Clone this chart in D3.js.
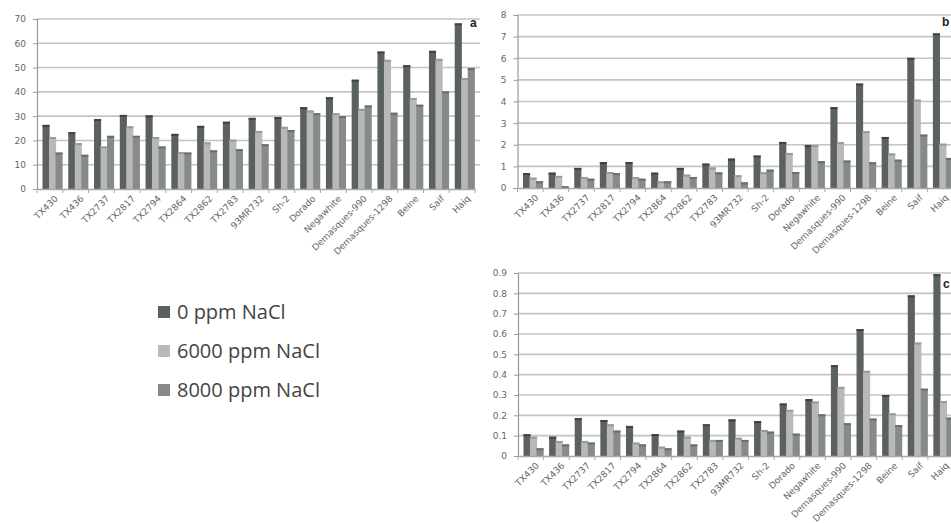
<!DOCTYPE html>
<html>
<head>
<meta charset="utf-8">
<script src="https://cdn.jsdelivr.net/npm/d3@7"></script>
<style>
	body { margin: 0; background: #fff; }
	svg { display: block; }
</style>
</head>
<body>
<svg id="chart" width="951" height="523"></svg>
<script>
// genotypes shown on every panel
const categories = ['TX430', 'TX436', 'TX2737', 'TX2817', 'TX2794', 'TX2864', 'TX2862', 'TX2783', '93MR732',
	'Sh-2', 'Dorado', 'Negawhite', 'Demasques-990', 'Demasques-1298', 'Beine', 'Saif', 'Haiq'];

const seriesNames = ['0 ppm NaCl', '6000 ppm NaCl', '8000 ppm NaCl'];

// panel a
const a0 = [26.4, 23.4, 28.8, 30.5, 30.3, 22.7, 26.0, 27.7, 29.3, 29.6, 33.7, 37.8, 45.0, 56.6, 51.0, 56.9, 68.2];
const a6 = [21.4, 18.9, 17.5, 25.8, 21.4, 15.2, 19.2, 20.3, 23.9, 25.6, 32.3, 31.2, 33.0, 53.2, 37.5, 53.6, 45.7];
const a8 = [15.0, 14.1, 21.9, 21.9, 17.5, 15.0, 15.9, 16.4, 18.4, 24.3, 31.2, 30.0, 34.4, 31.4, 34.7, 40.2, 49.8];
const aTicks = [0, 10, 20, 30, 40, 50, 60, 70];

// panel b
const b0 = [0.69, 0.71, 0.93, 1.2, 1.2, 0.71, 0.93, 1.13, 1.36, 1.5, 2.13, 1.99, 3.74, 4.83, 2.36, 6.02, 7.15];
const b6 = [0.48, 0.56, 0.51, 0.74, 0.51, 0.31, 0.62, 0.95, 0.59, 0.73, 1.62, 1.99, 2.12, 2.63, 1.6, 4.09, 2.05];
const b8 = [0.31, 0.08, 0.43, 0.69, 0.43, 0.31, 0.51, 0.72, 0.26, 0.85, 0.74, 1.24, 1.27, 1.19, 1.31, 2.47, 1.39];
const bTicks = [0, 1, 2, 3, 4, 5, 6, 7, 8];

// panel c
const c0 = [0.107, 0.095, 0.186, 0.177, 0.148, 0.108, 0.125, 0.156, 0.18, 0.172, 0.258, 0.28, 0.447, 0.624, 0.30, 0.79, 0.894];
const c6 = [0.095, 0.074, 0.074, 0.156, 0.066, 0.046, 0.095, 0.079, 0.09, 0.128, 0.227, 0.268, 0.34, 0.419, 0.21, 0.558, 0.27];
const c8 = [0.038, 0.057, 0.066, 0.125, 0.057, 0.038, 0.057, 0.079, 0.079, 0.12, 0.11, 0.205, 0.161, 0.184, 0.152, 0.331, 0.189];
const cTicks = [0, 0.1, 0.2, 0.3, 0.4, 0.5, 0.6, 0.7, 0.8, 0.9];

const colors = ['#5b6061', '#b8b8b8', '#868a8a'];
const topColors = ['#3f4344', '#9a9a9a', '#6a6e6e'];

const svg = d3.select('#chart');

// draws one clustered column panel
const drawPanel = ({ series, ticks, format, x0, x1, gridEnd, yBottom, yTop, letter, letterX, letterY }) => {
	const g = svg.append('g');

	const x = d3.scaleBand().domain(categories).range([x0, x1]).paddingInner(0).paddingOuter(0);
	const inner = d3.scaleBand().domain(d3.range(3)).range([5.5, 25]).padding(0);
	const y = d3.scaleLinear().domain([0, d3.max(ticks)]).range([yBottom, yTop]);

	// horizontal gridlines
	g.append('g')
		.selectAll('line')
		.data(ticks.slice(1))
		.join('line')
		.attr('x1', x0)
		.attr('x2', gridEnd)
		.attr('y1', (d) => y(d))
		.attr('y2', (d) => y(d))
		.attr('stroke', '#c4c4c4')
		.attr('stroke-width', 1.6);

	// y axis with outward ticks, labels to the left
	const yAxis = g
		.append('g')
		.attr('transform', `translate(${x0},0)`)
		.call(d3.axisLeft(y).tickValues(ticks).tickFormat(format).tickSize(4).tickPadding(7));
	yAxis.select('.domain').attr('stroke', '#9a9a9a').attr('stroke-width', 1.2);
	yAxis.selectAll('.tick line').attr('stroke', '#9a9a9a');
	yAxis
		.selectAll('.tick text')
		.attr('fill', '#666')
		.style('font-family', 'DejaVu Sans')
		.style('font-size', '9px');

	// bars, one group per genotype
	const groups = g
		.append('g')
		.selectAll('g')
		.data(categories)
		.join('g')
		.attr('transform', (d) => `translate(${x(d)},0)`);

	const bars = groups
		.selectAll('g')
		.data((d, i) => series.map((s, k) => ({ k, v: s[i] })))
		.join('g');

	bars.append('rect')
		.attr('x', (d) => inner(d.k))
		.attr('y', (d) => y(d.v))
		.attr('width', inner.bandwidth() + 0.6)
		.attr('height', (d) => y(0) - y(d.v))
		.attr('fill', (d) => colors[d.k]);

	// darker cap to imitate the 3d column top
	bars.append('rect')
		.attr('x', (d) => inner(d.k))
		.attr('y', (d) => y(d.v))
		.attr('width', inner.bandwidth() + 0.6)
		.attr('height', (d) => Math.min(2, y(0) - y(d.v)))
		.attr('fill', (d) => topColors[d.k]);

	// category axis along the floor
	const xAxis = g
		.append('g')
		.attr('transform', `translate(0,${yBottom})`)
		.call(d3.axisBottom(x).tickSize(0).tickFormat(''));
	xAxis.select('.domain').attr('stroke', '#a8a8a8').attr('stroke-width', 1.6);

	g.append('g')
		.selectAll('line')
		.data(d3.range(categories.length + 1))
		.join('line')
		.attr('x1', (i) => x0 + i * x.step())
		.attr('x2', (i) => x0 + i * x.step())
		.attr('y1', yBottom)
		.attr('y2', yBottom + 4)
		.attr('stroke', '#a8a8a8');

	g.append('g')
		.selectAll('text')
		.data(categories)
		.join('text')
		.attr('transform', (d) => `translate(${x(d) + inner(1) + inner.bandwidth() / 2 + 4},${yBottom + 8}) rotate(-45)`)
		.attr('text-anchor', 'end')
		.attr('dy', '0.35em')
		.attr('fill', '#666')
		.style('font-family', 'DejaVu Sans')
		.style('font-size', '9px')
		.text((d) => d);

	g.append('text')
		.attr('x', letterX)
		.attr('y', letterY)
		.attr('fill', '#222')
		.style('font-family', 'Liberation Sans')
		.style('font-weight', 'bold')
		.style('font-size', '12px')
		.text(letter);
};

const plain = (d) => String(d);
const oneDecimal = (d) => (d === 0 ? '0' : d3.format('.1f')(d));

drawPanel({ series: [a0, a6, a8], ticks: aTicks, format: plain, x0: 37, x1: 475, gridEnd: 480,
	yBottom: 189, yTop: 19, letter: 'a', letterX: 470, letterY: 27 });
drawPanel({ series: [b0, b6, b8], ticks: bTicks, format: plain, x0: 517.5, x1: 953, gridEnd: 951,
	yBottom: 188, yTop: 15, letter: 'b', letterX: 942, letterY: 26 });
drawPanel({ series: [c0, c6, c8], ticks: cTicks, format: oneDecimal, x0: 518, x1: 953.5, gridEnd: 951,
	yBottom: 456, yTop: 273, letter: 'c', letterX: 943, letterY: 288 });

// legend for the three salt levels
const legend = svg
	.append('g')
	.selectAll('g')
	.data(seriesNames)
	.join('g')
	.attr('transform', (d, i) => `translate(158,${312 + i * 39})`);

legend.append('rect')
	.attr('x', 0)
	.attr('y', -6)
	.attr('width', 12)
	.attr('height', 12)
	.attr('fill', (d, i) => colors[i]);

legend.append('text')
	.attr('x', 19)
	.attr('dy', '0.36em')
	.attr('fill', '#444')
	.style('font-family', 'Open Sans')
	.style('font-size', '20px')
	.text((d) => d);
</script>
</body>
</html>
